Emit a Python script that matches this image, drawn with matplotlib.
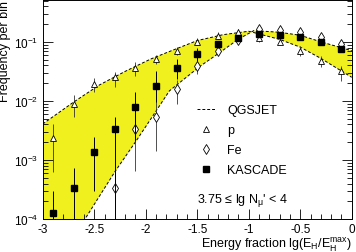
import matplotlib
matplotlib.use('Agg')
import matplotlib.pyplot as plt
from matplotlib.lines import Line2D
from matplotlib.ticker import LogLocator, NullFormatter, MultipleLocator
import numpy as np

plt.rcParams['font.family'] = ['Liberation Sans', 'DejaVu Sans']
plt.rcParams['mathtext.default'] = 'regular'
plt.rcParams['axes.unicode_minus'] = False

# QGSJET simulation curves (band edges)
p_x = [-3.0, -2.7, -2.45, -2.2, -1.95, -1.75, -1.5, -1.25, -1.0, -0.7, -0.5, -0.3, 0.0]
p_y = [0.00407, 0.00955, 0.0186, 0.0316, 0.0513, 0.0708, 0.105, 0.132, 0.151,
       0.110, 0.0813, 0.0525, 0.0251]
fe_x = [-3.0, -2.59, -2.3, -2.09, -1.96, -1.77, -1.47, -1.28, -1.1, -0.95, -0.7, -0.5, -0.3, 0.0]
fe_y = [1e-5, 1e-4, 0.000631, 0.00214, 0.00468, 0.0148, 0.0389, 0.0661, 0.111,
        0.155, 0.145, 0.129, 0.100, 0.0708]

# binned points
bins = [-2.9, -2.7, -2.5, -2.3, -2.1, -1.9, -1.7, -1.5, -1.3, -1.1, -0.9, -0.7, -0.5, -0.3, -0.1]

kas_y = [0.000126, 0.000331, 0.00138, 0.00339, 0.00794, 0.0182, 0.0355, 0.0617, 0.0912,
         0.117, 0.135, 0.129, 0.122, 0.100, 0.0759]
kas_lo = [1e-5, 1e-5, 0.000295, 1e-5, 0.00209, 0.00955, 0.0234, 0.0468, 0.079,
          0.107, 0.124, 0.118, 0.111, 0.091, 0.068]
kas_hi = [0.000295, 0.000724, 0.00245, 0.00537, 0.0141, 0.0316, 0.0513, 0.0776, 0.105,
          0.128, 0.148, 0.141, 0.134, 0.110, 0.085]

pr_y = [0.00234, 0.00891, 0.0191, 0.0251, 0.0355, 0.0513, 0.0708, 0.100, 0.126,
        0.145, 0.115, 0.100, 0.0708, 0.0479, 0.0324]
pr_lo = [0.000631, 0.00537, 0.0141, 0.0170, 0.0269, 0.0417, 0.0603, 0.087, 0.110,
         0.126, 0.100, 0.087, 0.0575, 0.0372, 0.0219]
pr_hi = [0.00407, 0.0126, 0.0240, 0.0309, 0.0447, 0.0603, 0.0813, 0.115, 0.145,
         0.166, 0.132, 0.115, 0.0851, 0.0575, 0.0389]

fe_pts = [np.nan, np.nan, np.nan, 0.000331, 0.00339, 0.00525, 0.0158, 0.0389, 0.0708,
          0.107, 0.164, 0.158, 0.148, 0.119, 0.0912]
fe_lo = [np.nan, np.nan, np.nan, 1e-5, 0.000646, 0.00141, 0.00891, 0.0282, 0.060,
         0.092, 0.140, 0.135, 0.127, 0.102, 0.078]
fe_hi = [np.nan, np.nan, np.nan, 0.000692, 0.00603, 0.0100, 0.0224, 0.0501, 0.083,
         0.125, 0.190, 0.185, 0.172, 0.139, 0.107]

fig = plt.figure(figsize=(3.56, 2.53), dpi=100)
ax = fig.add_axes([0.12, 0.13, 0.868, 0.866])

# yellow band between the two QGSJET curves
ax.fill(np.concatenate([p_x, fe_x[::-1]]), np.concatenate([p_y, fe_y[::-1]]),
        color='#f0f01e', lw=0, zorder=1)
ax.plot(p_x, p_y, 'k--', lw=0.7, dashes=(3, 2), zorder=2)
ax.plot(fe_x, fe_y, 'k--', lw=0.7, dashes=(3, 2), zorder=2)


def errs(y, lo, hi):
    y, lo, hi = np.array(y), np.array(lo), np.array(hi)
    return [y - lo, hi - y]


ax.errorbar(bins, pr_y, yerr=errs(pr_y, pr_lo, pr_hi), fmt='^', ms=5, mfc='white',
            mec='black', mew=0.6, ecolor='#333333', elinewidth=0.6, capsize=0, zorder=3)
ax.errorbar(bins, fe_pts, yerr=errs(fe_pts, fe_lo, fe_hi), fmt='d', ms=5.5, mfc='white',
            mec='black', mew=0.6, ecolor='#333333', elinewidth=0.6, capsize=0, zorder=3)
ax.errorbar(bins, kas_y, yerr=errs(kas_y, kas_lo, kas_hi), fmt='s', ms=5, mfc='black',
            mec='black', ecolor='black', elinewidth=0.7, capsize=0, zorder=4)

ax.set_yscale('log')
ax.set_xlim(-3, 0)
ax.set_ylim(1e-4, 0.51)
ax.xaxis.set_major_locator(MultipleLocator(0.5))
ax.xaxis.set_minor_locator(MultipleLocator(0.1))
ax.yaxis.set_major_locator(LogLocator(base=10, numticks=10))
ax.yaxis.set_minor_locator(LogLocator(base=10, subs=np.arange(2, 10), numticks=20))
ax.yaxis.set_minor_formatter(NullFormatter())
ax.xaxis.set_major_formatter(plt.FuncFormatter(lambda v, p: '%g' % v))

ax.tick_params(which='both', direction='in', left=True, right=True, top=False, bottom=True)
ax.tick_params(which='major', length=7, width=0.6, labelsize=8.5, pad=3)
ax.tick_params(which='minor', length=3.6, width=0.6)
for s in ax.spines.values():
    s.set_linewidth(0.7)

ax.set_xlabel('Energy fraction lg(E$_H$/E$_H^{max}$)', fontsize=9, loc='right', labelpad=0)
ax.set_ylabel('Frequency per bin', fontsize=9, loc='top', labelpad=2)

handles = [
    Line2D([], [], color='black', ls='--', lw=0.7, dashes=(3, 2)),
    Line2D([], [], ls='none', marker='^', ms=5, mfc='white', mec='black', mew=0.6),
    Line2D([], [], ls='none', marker='d', ms=5.5, mfc='white', mec='black', mew=0.6),
    Line2D([], [], ls='none', marker='s', ms=5, mfc='black', mec='black'),
]
ax.legend(handles, ['QGSJET', 'p', 'Fe', 'KASCADE'], loc='upper left',
          bbox_to_anchor=(0.50, 0.525), frameon=False, fontsize=9, borderpad=0,
          borderaxespad=0, handlelength=1.4, handletextpad=1.0, labelspacing=0.65)
ax.text(0.498, 0.091, "3.75 ≤ lg N$_\\mu$' < 4", transform=ax.transAxes, fontsize=9,
        va='center', ha='left')

fig.savefig('out.png', dpi=100)
